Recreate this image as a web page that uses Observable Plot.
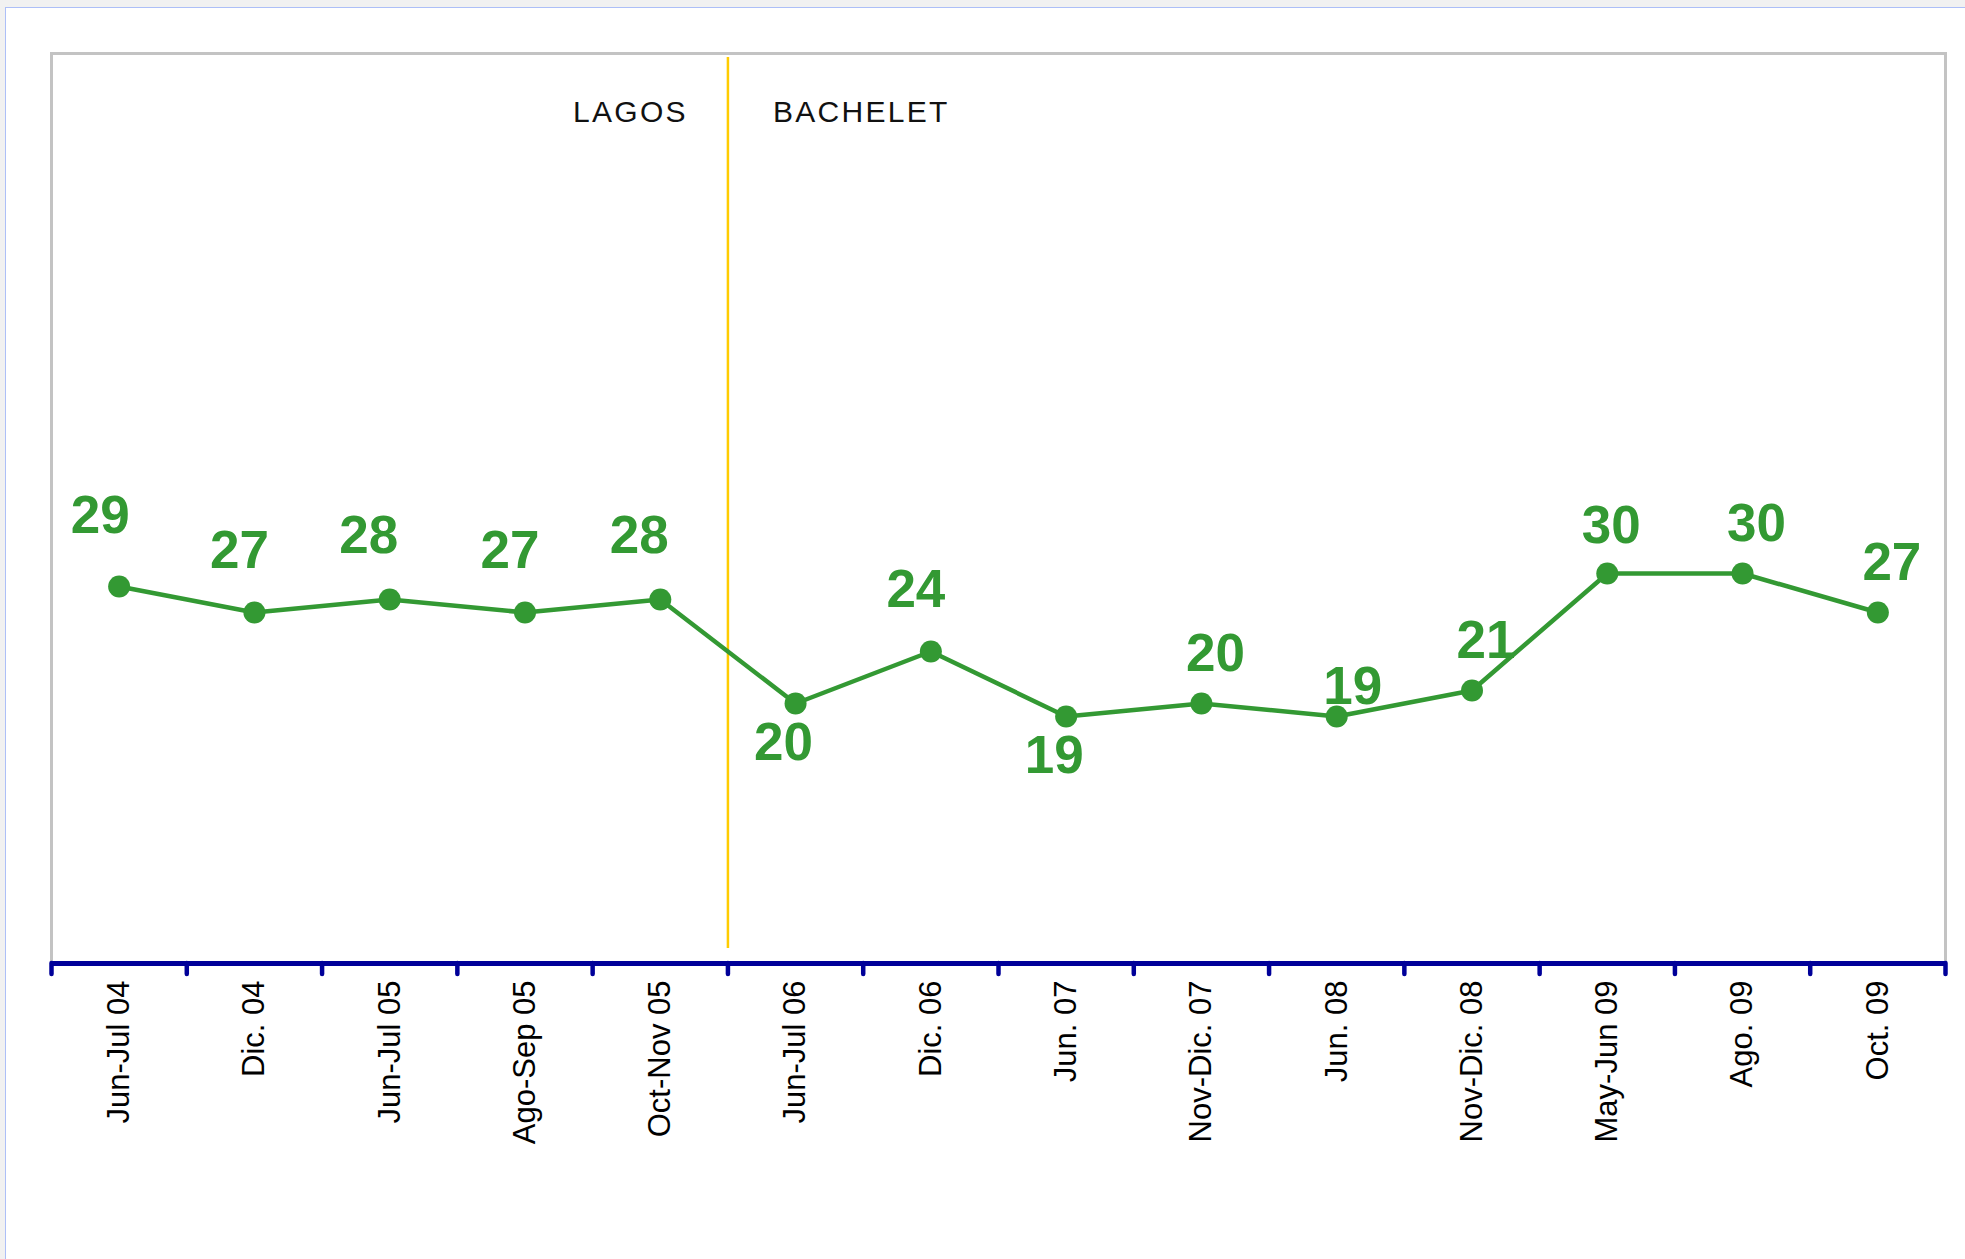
<!DOCTYPE html>
<html>
<head>
<meta charset="utf-8">
<script src="https://cdn.jsdelivr.net/npm/d3@7"></script>
<script src="https://cdn.jsdelivr.net/npm/@observablehq/plot@0.6"></script>
<style>
  html, body { margin: 0; padding: 0; width: 1965px; height: 1259px; overflow: hidden; background: #f1f1f1; }
  #page { position: absolute; left: 5px; top: 7px; right: 0; bottom: 0; background: #ffffff;
          border-left: 1.5px solid #adbff7; border-top: 1.5px solid #adbff7; }
  #chart { position: absolute; left: 0; top: 0; }
</style>
</head>
<body>
<div id="page"></div>
<div id="chart"></div>
<script>
// ---- data ----
const categories = [
  "Jun-Jul 04", "Dic. 04", "Jun-Jul 05", "Ago-Sep 05", "Oct-Nov 05",
  "Jun-Jul 06", "Dic. 06", "Jun. 07", "Nov-Dic. 07", "Jun. 08",
  "Nov-Dic. 08", "May-Jun 09", "Ago. 09", "Oct. 09"
];
const values = [29, 27, 28, 27, 28, 20, 24, 19, 20, 19, 21, 30, 30, 27];
const periodLabels = ["LAGOS", "BACHELET"];
const transitionAt = 5; // category boundary where the government changes

// ---- label placement (styling) ----
const labelPlacement = [
  "aboveLeftHigh", "aboveLeft", "aboveLeftWide", "aboveLeft", "aboveLeftWide",
  "below", "aboveLeft", "below", "aboveRight", "nearRight",
  "aboveRight", "aboveCenter", "aboveRight", "aboveRight"
];
const placementStyle = {
  aboveLeftHigh: {dx: -19, dy: -70},
  aboveLeft:     {dx: -15, dy: -61},
  aboveLeftWide: {dx: -21, dy: -63},
  below:         {dx: -12, dy: 40},
  aboveRight:    {dx: 14,  dy: -49},
  aboveCenter:   {dx: 4,   dy: -47},
  nearRight:     {dx: 16,  dy: -29}
};

const green = "#339933";
const navy = "#000099";

const data = categories.map((c, i) => ({category: c, index: i, value: values[i], placement: labelPlacement[i]}));
const xPos = d => d.index + 0.5;

const labelMarks = Object.entries(placementStyle).map(([key, s]) =>
  Plot.text(data.filter(d => d.placement === key), {
    x: xPos, y: "value", text: d => String(d.value), lineAnchor: "middle",
    dx: s.dx, dy: s.dy, fontSize: 53, fontWeight: "bold", fill: green
  })
);

const chart = Plot.plot({
  width: 1965,
  height: 1259,
  marginLeft: 51,
  marginRight: 20,
  marginTop: 53,
  marginBottom: 296,
  style: {background: "transparent", fontFamily: "'Liberation Sans', Arial, sans-serif", overflow: "visible"},
  x: {domain: [0, categories.length], axis: null},
  y: {domain: [0, 70], axis: null},
  marks: [
    Plot.frame({stroke: "#c3c3c3", strokeWidth: 3}),
    Plot.ruleX([transitionAt], {stroke: "#ffcc00", strokeWidth: 2.5, insetTop: 4, insetBottom: 15}),
    Plot.line(data, {x: xPos, y: "value", stroke: green, strokeWidth: 4.5}),
    Plot.dot(data, {x: xPos, y: "value", r: 11, fill: green}),
    ...labelMarks,
    Plot.ruleY([0], {stroke: navy, strokeWidth: 5}),
    Plot.ruleX(d3.range(categories.length + 1), {y1: 0, y2: 0, insetBottom: -11, stroke: navy, strokeWidth: 4.5, strokeLinecap: "round"}),
    Plot.text(data, {
      x: xPos, text: "category", frameAnchor: "bottom", lineAnchor: "middle", rotate: -90, textAnchor: "end",
      dy: 17, fontSize: 31, fill: "#000000"
    }),
    Plot.text([periodLabels[0]], {
      x: () => transitionAt, text: d => d, frameAnchor: "top", lineAnchor: "middle", textAnchor: "end",
      dx: -40, dy: 59, fontSize: 30, fill: "#111111"
    }),
    Plot.text([periodLabels[1]], {
      x: () => transitionAt, text: d => d, frameAnchor: "top", lineAnchor: "middle", textAnchor: "start",
      dx: 45, dy: 59, fontSize: 30, fill: "#111111"
    })
  ]
});
// letter spacing for the period labels (Plot text has no letterSpacing option)
d3.select(chart).selectAll("text")
  .filter(function () { return periodLabels.includes(this.textContent); })
  .attr("letter-spacing", 2.3);
document.getElementById("chart").appendChild(chart);
</script>
</body>
</html>
